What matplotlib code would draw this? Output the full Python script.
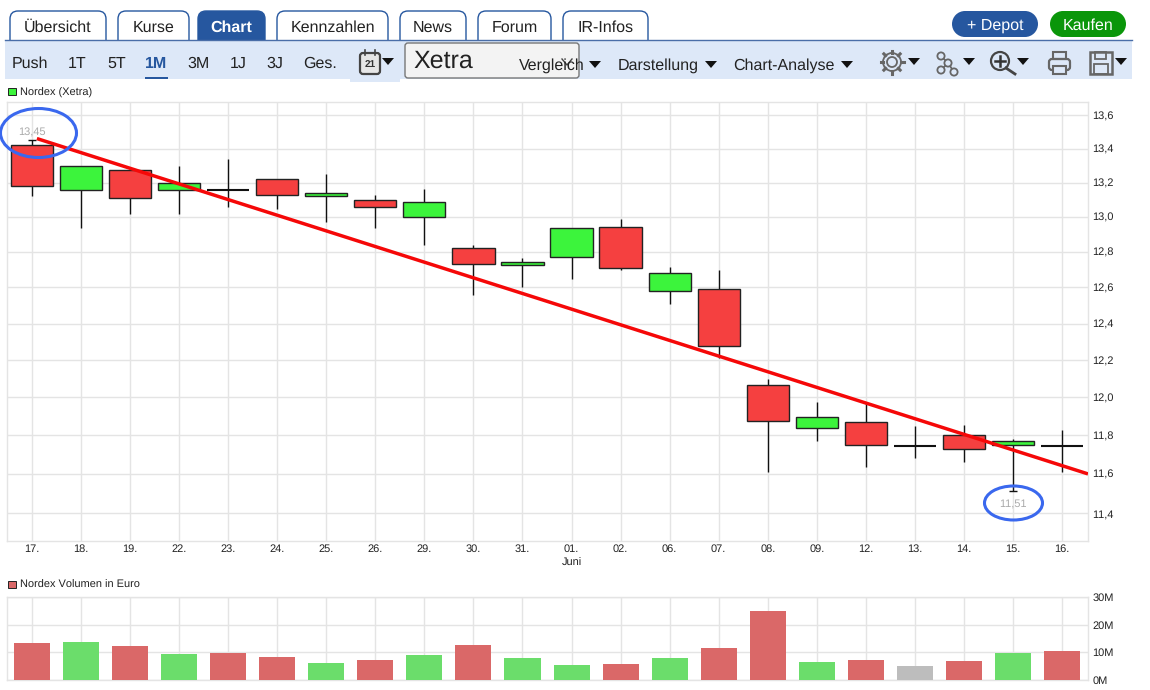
import numpy as np
import matplotlib
matplotlib.use("Agg")
import matplotlib.pyplot as plt
from matplotlib.patches import FancyBboxPatch, Rectangle, Ellipse, Polygon, Circle, PathPatch
from matplotlib.path import Path

plt.rcParams['font.family'] = ['Liberation Sans', 'DejaVu Sans']
plt.rcParams['text.hinting'] = 'none'
plt.rcParams['text.hinting_factor'] = 1

days = ['17.', '18.', '19.', '22.', '23.', '24.', '25.', '26.', '29.', '30.', '31.',
        '01.', '02.', '06.', '07.', '08.', '09.', '12.', '13.', '14.', '15.', '16.']
opens = [13.42, 13.155, 13.275, 13.155, 13.155, 13.22, 13.12, 13.10, 13.00, 12.82, 12.725,
         12.77, 12.94, 12.58, 12.59, 12.065, 11.84, 11.87, 11.745, 11.80, 11.75, 11.745]
closes = [13.18, 13.30, 13.11, 13.20, 13.155, 13.126, 13.14, 13.06, 13.085, 12.73, 12.745,
          12.935, 12.71, 12.68, 12.275, 11.875, 11.895, 11.75, 11.745, 11.73, 11.77, 11.745]
highs = [13.45, 13.30, 13.275, 13.30, 13.337, 13.22, 13.25, 13.125, 13.16, 12.84, 12.765,
         12.935, 12.99, 12.715, 12.70, 12.10, 11.975, 11.97, 11.85, 11.855, 11.78, 11.83]
lows = [13.12, 12.935, 13.016, 13.016, 13.056, 13.045, 12.97, 12.935, 12.84, 12.56, 12.60,
        12.65, 12.70, 12.51, 12.21, 11.61, 11.77, 11.635, 11.68, 11.66, 11.51, 11.61]
volumes = [13.4, 13.7, 12.2, 9.4, 9.8, 8.3, 6.1, 7.2, 9.0, 12.6, 8.0,
           5.4, 5.8, 8.0, 11.5, 25.0, 6.5, 7.2, 5.0, 6.9, 9.8, 10.5]
vol_kinds = ['r', 'g', 'r', 'g', 'r', 'r', 'g', 'r', 'g', 'r', 'g',
             'g', 'r', 'g', 'r', 'r', 'g', 'r', 'n', 'r', 'g', 'r']
price_ticks = [13.6, 13.4, 13.2, 13.0, 12.8, 12.6, 12.4, 12.2, 12.0, 11.8, 11.6, 11.4]
vol_ticks = [0, 10, 20, 30]
trend_x = [0.1, 21.53]
trend_y = [13.46, 11.60]
tabs = [('Übersicht', 10, 106), ('Kurse', 118, 189), ('Chart', 198, 265), ('Kennzahlen', 277, 388),
        ('News', 400, 466), ('Forum', 478, 551), ('IR-Infos', 563, 648)]
periods = [('Push', 12), ('1T', 68), ('5T', 107), ('1M', 145), ('3M', 187), ('1J', 230), ('3J', 266), ('Ges.', 303)]
menus = [('Vergleich', 519), ('Darstellung', 618), ('Chart-Analyse', 733)]

W, H = 1150, 690
fig = plt.figure(figsize=(W / 100, H / 100), dpi=100, facecolor='white')


def axes_px(x0, y0, x1, y1, **kw):
    return fig.add_axes([x0 / W, 1 - y1 / H, (x1 - x0) / W, (y1 - y0) / H], **kw)


GRID = '#e4e4e4'
TICK = '#222222'
x = np.arange(len(days))
xlim = (-0.51, 21.53)

# price panel
ax = axes_px(7, 102, 1088, 541)
ax.set_yscale('log')
ax.set_xlim(*xlim)
ax.set_ylim(11.26, 13.68)
ax.set_axisbelow(True)
ax.grid(True, which='major', color=GRID, lw=1.0)
ax.yaxis.tick_right()
ax.set_yticks(price_ticks)
ax.set_yticklabels([f'{v:.1f}'.replace('.', ',') for v in price_ticks], fontsize=8, color=TICK)
ax.yaxis.set_minor_locator(matplotlib.ticker.NullLocator())
ax.set_xticks(x)
ax.set_xticklabels(days, fontsize=8, color=TICK)
ax.tick_params(axis='y', length=0, pad=3)
ax.tick_params(axis='x', length=0, pad=2)
for s in ax.spines.values():
    s.set_color(GRID)
    s.set_linewidth(1.0)

ax.vlines(x, lows, highs, color='#111111', lw=1.0, zorder=3)
for i in x:
    o, c = opens[i], closes[i]
    if o == c:
        ax.hlines(o, i - 0.43, i + 0.43, color='#111111', lw=1.5, zorder=4)
    else:
        col = '#3cf43c' if c > o else '#f54040'
        ax.bar(i, abs(c - o), 0.86, bottom=min(o, c), color=col, edgecolor='#222222', lw=1.0, zorder=4)
ax.hlines(highs[0], -0.09, 0.09, color='#111111', lw=1.0, zorder=3)
ax.hlines(lows[20], 19.92, 20.08, color='#111111', lw=1.0, zorder=3)
ax.annotate('13,45', (0, highs[0]), xytext=(0, 2), textcoords='offset points', ha='center', va='bottom',
            fontsize=8, color='#aaaaaa', zorder=6)
ax.annotate('11,51', (20, lows[20]), xytext=(0, -5), textcoords='offset points', ha='center', va='top',
            fontsize=8, color='#aaaaaa', zorder=6)
ax.plot(trend_x, trend_y, color='#f50808', lw=2.5, zorder=5, solid_capstyle='butt')
ax.annotate('Juni', (11, 0), xycoords=('data', 'axes fraction'), xytext=(0, -12), textcoords='offset points',
            ha='center', va='top', fontsize=8, color=TICK)

# volume panel
av = axes_px(7, 597, 1088, 680)
av.set_xlim(*xlim)
av.set_ylim(0, 30)
av.set_axisbelow(True)
av.grid(True, color=GRID, lw=1.0)
av.yaxis.tick_right()
av.set_yticks(vol_ticks)
av.set_yticklabels([f'{v}M' for v in vol_ticks], fontsize=8, color=TICK)
av.set_xticks(x)
av.set_xticklabels([])
av.tick_params(length=0, pad=3)
for s in av.spines.values():
    s.set_color(GRID)
    s.set_linewidth(1.0)
palette = {'r': '#da6868', 'g': '#6bdd6b', 'n': '#bdbdbd'}
av.bar(x, volumes, 0.735, color=[palette[k] for k in vol_kinds], zorder=3)

# page furniture drawn in pixel coordinates
ui = fig.add_axes([0, 0, 1, 1], facecolor='none')
ui.set_xlim(0, W)
ui.set_ylim(H, 0)
ui.axis('off')

DARK = '#222222'
BLUE = '#26579f'
BAND = '#dde8f8'
ICON = '#666666'
TXT = 11.8


def label(px, py, s, size=TXT, color=DARK, ha='left', **kw):
    ui.text(px, py, s, fontsize=size, color=color, ha=ha, va='center', **kw)


def caret(cx, cy, w=6):
    ui.add_patch(Polygon([(cx - w, cy - 3), (cx + w, cy - 3), (cx, cy + 4)], color='#111111', lw=0))


def rounded_top(x0, x1, y0, y1, r, fc, ec):
    verts = [(x0, y1), (x0, y0 + r), (x0, y0), (x0 + r, y0), (x1 - r, y0), (x1, y0), (x1, y0 + r), (x1, y1)]
    codes = [Path.MOVETO, Path.LINETO, Path.CURVE3, Path.CURVE3, Path.LINETO, Path.CURVE3, Path.CURVE3, Path.LINETO]
    ui.add_patch(PathPatch(Path(verts, codes), fc=fc, ec=ec, lw=1.0))


def pill(x0, x1, y0, y1, fc):
    r = (y1 - y0) / 2
    ui.add_patch(Rectangle((x0 + r, y0), x1 - x0 - 2 * r, y1 - y0, fc=fc, ec='none'))
    ui.add_patch(Circle((x0 + r, y0 + r), r, fc=fc, ec='none'))
    ui.add_patch(Circle((x1 - r, y0 + r), r, fc=fc, ec='none'))


ui.add_patch(Rectangle((5, 40), 1127, 39, fc=BAND, ec='none'))
ui.add_patch(Rectangle((350, 78), 50, 4, fc=BAND, ec='none'))
ui.plot([5, 1132], [40, 40], color='#4a6ea8', lw=1.0)

for name, x0, x1 in tabs:
    active = name == 'Chart'
    rounded_top(x0, x1, 11, 40, 8, BLUE if active else 'white', BLUE)
    label((x0 + x1) / 2, 28, name, TXT, 'white' if active else DARK, ha='center',
          fontweight='bold' if active else 'normal')

pill(952, 1038, 11, 37, BLUE)
label(995, 25.5, '+ Depot', TXT, 'white', ha='center')
pill(1050, 1126, 11, 37, '#0a960a')
label(1088, 25.5, 'Kaufen', TXT, 'white', ha='center')

for name, px in periods:
    on = name == '1M'
    label(px, 63.5, name, TXT, BLUE if on else DARK, fontweight='bold' if on else 'normal')
ui.add_patch(Rectangle((145, 77), 23, 2, fc=BLUE, ec='none'))

# calendar icon
ui.add_patch(FancyBboxPatch((360, 53), 20, 21, boxstyle='round,pad=0,rounding_size=3', fc='#e6e6e6', ec='#444444', lw=1.6))
label(370, 64.5, '21', 7.5, '#333333', ha='center', fontweight='bold')
ui.plot([365, 365], [50, 55], color='#444444', lw=1.2)
ui.plot([375, 375], [50, 55], color='#444444', lw=1.2)
caret(388, 61)

# exchange selector
ui.add_patch(FancyBboxPatch((405, 43), 174, 35, boxstyle='round,pad=0,rounding_size=3', fc='#f3f3f3', ec='#777777', lw=1.0))
label(413, 61, 'Xetra', 18, '#222222')
ui.plot([562, 567, 572], [59, 65, 59], color='#444444', lw=1.0)
for name, px in menus:
    label(px, 65.5, name, TXT)
caret(595, 64)
caret(711, 64)
caret(847, 64)

# gear
ui.add_patch(Circle((892, 62), 5, fc='none', ec=ICON, lw=1.3))
ui.add_patch(Circle((892, 62), 9, fc='none', ec=ICON, lw=1.3))
for a in np.deg2rad(np.arange(0, 360, 45)):
    ui.plot([892 + 9 * np.cos(a), 892 + 11.5 * np.cos(a)],
            [62 + 9 * np.sin(a), 62 + 11.5 * np.sin(a)], color=ICON, lw=2.2)
caret(914, 61)
# network
ui.plot([941, 948, 954], [56, 63, 72], color=ICON, lw=1.3)
ui.plot([941, 948], [70, 63], color=ICON, lw=1.3)
for cx, cy in [(941, 56), (941, 70), (954, 72), (948, 63)]:
    ui.add_patch(Circle((cx, cy), 3.6, fc=BAND, ec=ICON, lw=1.3, zorder=3))
caret(969, 61)
# magnifier
ui.add_patch(Circle((1000, 61), 9, fc='none', ec='#444444', lw=1.6))
ui.plot([1000, 1000], [56, 66], color='#333333', lw=1.8)
ui.plot([995, 1005], [61, 61], color='#333333', lw=1.8)
ui.plot([1006, 1015], [68, 74], color='#444444', lw=2.0)
caret(1023, 61)
# printer
ui.add_patch(FancyBboxPatch((1049, 59), 21, 11, boxstyle='round,pad=0,rounding_size=3', fc='none', ec=ICON, lw=1.6))
ui.add_patch(Rectangle((1053, 52), 13, 7, fc='none', ec=ICON, lw=1.5))
ui.add_patch(Rectangle((1053, 66), 13, 8, fc=BAND, ec=ICON, lw=1.5))
# floppy
ui.add_patch(Rectangle((1090, 52), 22, 22, fc='none', ec=ICON, lw=1.8))
ui.add_patch(Rectangle((1095, 52), 11, 7, fc='none', ec=ICON, lw=1.3))
ui.add_patch(Rectangle((1094, 64), 14, 10, fc='none', ec=ICON, lw=1.3))
caret(1121, 61)

# panel legends
ui.add_patch(Rectangle((8, 88), 8, 7, fc='#3cf43c', ec='#222222', lw=0.7))
label(20, 92.5, 'Nordex (Xetra)', 8)
ui.add_patch(Rectangle((8, 581), 8, 7, fc='#da6868', ec='#222222', lw=0.7))
label(20, 585.5, 'Nordex Volumen in Euro', 8)

# highlight rings
ui.add_patch(Ellipse((38.5, 133), 76, 49, fc='none', ec='#3a68ee', lw=2.2))
ui.add_patch(Ellipse((1013.5, 503), 58, 34, fc='none', ec='#3a68ee', lw=2.2))

fig.savefig('out.png', dpi=100, facecolor='white')
